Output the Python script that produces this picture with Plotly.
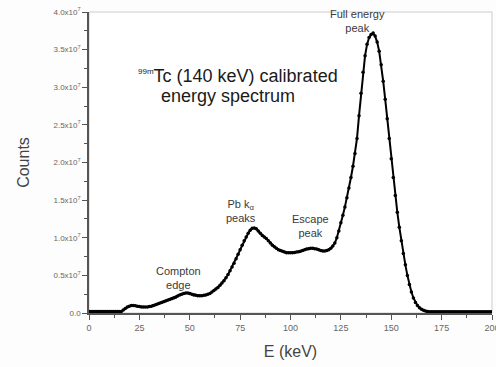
import plotly.graph_objects as go

# Energy axis (keV), 1 keV bins
energy_kev = list(range(0, 201))

# Counts in units of 1e7
counts_e7 = (
    [0.02] * 17 +                                   # 0-16
    [0.04, 0.06, 0.08, 0.09, 0.10, 0.10, 0.095, 0.09, 0.085, 0.08,   # 17-26
     0.08, 0.08, 0.08, 0.085, 0.09, 0.10, 0.11, 0.12, 0.13, 0.14,    # 27-36
     0.15, 0.16, 0.17, 0.18, 0.19, 0.20, 0.21, 0.225, 0.24, 0.25,    # 37-46
     0.26, 0.265, 0.265, 0.26, 0.25, 0.24, 0.235, 0.23, 0.23, 0.23,  # 47-56
     0.235, 0.24, 0.25, 0.26, 0.28, 0.30, 0.32, 0.34, 0.37, 0.40,    # 57-66
     0.43, 0.47, 0.51, 0.56, 0.61, 0.66, 0.72, 0.78, 0.84, 0.90,     # 67-76
     0.96, 1.01, 1.06, 1.10, 1.125, 1.13, 1.12, 1.09, 1.06, 1.03,    # 77-86
     1.01, 0.99, 0.96, 0.93, 0.90, 0.88, 0.86, 0.84, 0.83, 0.82,     # 87-96
     0.81, 0.80, 0.80, 0.80, 0.80, 0.805, 0.81, 0.815, 0.82, 0.83,   # 97-106
     0.84, 0.85, 0.855, 0.86, 0.86, 0.855, 0.85, 0.84, 0.83, 0.825,  # 107-116
     0.825, 0.83, 0.84, 0.86, 0.89, 0.93, 1.00, 1.09, 1.20, 1.30,    # 117-126
     1.41, 1.53, 1.66, 1.80, 1.95, 2.12, 2.32, 2.62, 2.92, 3.20,     # 127-136
     3.42, 3.57, 3.66, 3.70, 3.72, 3.68, 3.60, 3.48, 3.30, 3.08,     # 137-146
     2.84, 2.58, 2.32, 2.05, 1.80, 1.56, 1.34, 1.14, 0.96, 0.79,     # 147-156
     0.64, 0.50, 0.38, 0.28, 0.20, 0.14, 0.10, 0.07, 0.05, 0.035,    # 157-166
     0.025, 0.02] +                                  # 167-168
    [0.015] * 32                                     # 169-200
)

x_ticks = [0, 25, 50, 75, 100, 125, 150, 175, 200]
x_ticklabels = ["0", "25", "50", "75", "100", "125", "150", "175", "200"]
y_ticks = [0, 0.5, 1.0, 1.5, 2.0, 2.5, 3.0, 3.5, 4.0]
y_ticklabels = ["0.0"] + [f"{v:.1f}x10<sup>7</sup>" for v in y_ticks[1:]]

fig = go.Figure()
fig.add_trace(go.Scatter(
    x=energy_kev, y=counts_e7, mode="lines+markers",
    line=dict(color="black", width=2),
    marker=dict(color="black", size=3.5),
    showlegend=False, hoverinfo="skip",
))

title_font = dict(family="Liberation Sans", size=18, color="#1a1a1a")
fig.add_annotation(x=0.37, y=0.787, xref="paper", yref="paper", showarrow=False,
                   text="<sup><span style='font-size:8px'>99m</span></sup>Tc (140 keV) calibrated",
                   font=title_font, xanchor="center", yanchor="middle")
fig.add_annotation(x=0.345, y=0.722, xref="paper", yref="paper", showarrow=False,
                   text="energy spectrum",
                   font=title_font, xanchor="center", yanchor="middle")

ann_font = dict(family="Liberation Sans", size=11, color="#3a3a3a")
fig.add_annotation(x=44.4, y=0.47, showarrow=False, text="Compton<br>edge",
                   font=ann_font, xanchor="center", yanchor="middle")
fig.add_annotation(x=75.5, y=1.36, showarrow=False, text="Pb k<sub>\u03b1</sub><br>peaks",
                   font=ann_font, xanchor="center", yanchor="middle")
fig.add_annotation(x=109.7, y=1.16, showarrow=False, text="Escape<br>peak",
                   font=ann_font, xanchor="center", yanchor="middle")
fig.add_annotation(x=133, y=3.88, showarrow=False, text="Full energy<br>peak",
                   font=ann_font, xanchor="center", yanchor="middle")

fig.update_layout(
    width=496, height=367,
    margin=dict(l=89, r=4, t=12, b=54, autoexpand=False),
    paper_bgcolor="#fdfdfd", plot_bgcolor="#ffffff",
    font=dict(family="Liberation Sans", color="#444444"),
    shapes=[dict(type="rect", xref="paper", yref="paper", x0=0, y0=0, x1=1, y1=1,
                 line=dict(color="#cccccc", width=1), layer="below")],
)
fig.update_xaxes(
    range=[0, 200], tickmode="array", tickvals=x_ticks, ticktext=x_ticklabels,
    automargin=False, ticklabeloverflow="allow",
    ticks="outside", ticklen=5, tickcolor="#555555", showgrid=False, zeroline=False,
    showline=True, linecolor="#555555", linewidth=1.5,
    tickfont=dict(size=9, color="#666666"),
    minor=dict(tickmode="linear", tick0=0, dtick=12.5, ticks="outside", ticklen=3,
               tickcolor="#555555", showgrid=False),
    title=dict(text="E (keV)", font=dict(size=16, color="#444444"), standoff=14),
)
fig.update_yaxes(
    range=[0, 4.0], tickmode="array", tickvals=y_ticks, ticktext=y_ticklabels,
    automargin=False, ticklabeloverflow="allow",
    ticks="outside", ticklen=5, tickcolor="#555555", showgrid=False, zeroline=False,
    showline=True, linecolor="#555555", linewidth=1.5,
    tickfont=dict(size=8, color="#666666"),
    minor=dict(tickmode="linear", tick0=0, dtick=0.25, ticks="outside", ticklen=3,
               tickcolor="#555555", showgrid=False),
    title=dict(text="Counts", font=dict(size=16, color="#444444"), standoff=20),
)

fig.write_html("out.html", config={"displayModeBar": False},
               post_script="document.body.style.margin='0';")
